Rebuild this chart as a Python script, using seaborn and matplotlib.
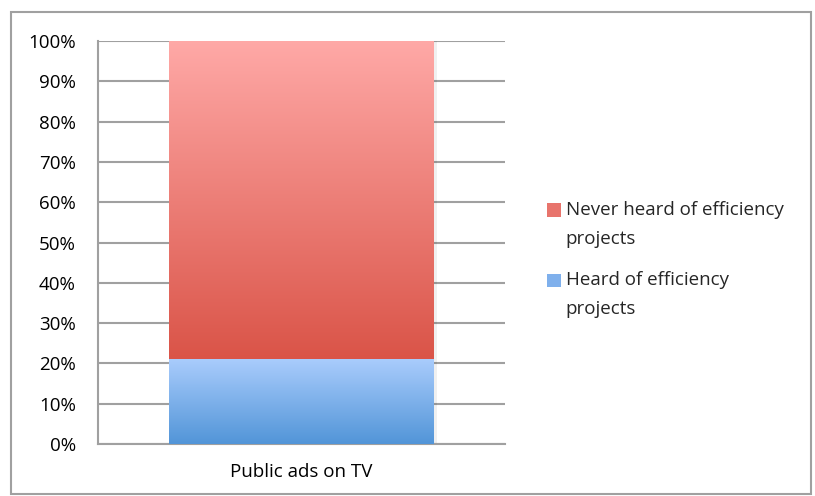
import numpy as np
import pandas as pd
import matplotlib
matplotlib.use("Agg")
import matplotlib.pyplot as plt
import matplotlib.patches as mpatches
from matplotlib.colors import LinearSegmentedColormap
from matplotlib.legend_handler import HandlerPatch
import seaborn as sns

# Survey shares (percent) for the single category
categories = ["Public ads on TV"]
heard = [21]
never_heard = [79]
series_labels = ["Heard of efficiency projects", "Never heard of efficiency projects"]
y_ticks = [0, 10, 20, 30, 40, 50, 60, 70, 80, 90, 100]

sns.set_theme(style="white")
plt.rcParams["font.family"] = ["Open Sans", "DejaVu Sans"]

FS = 13.5
LINESPACING = 1.75
W, H, DPI = 815, 496, 100
fig = plt.figure(figsize=(W / DPI, H / DPI), dpi=DPI)
ax = fig.add_axes([98 / W, 1 - 444 / H, (505 - 98) / W, (444 - 41) / H])

df = pd.DataFrame({
    "category": categories,
    "heard": heard,
    "total": [h + n for h, n in zip(heard, never_heard)],
})

# Stacked bars: the full height drawn first, the lower segment on top
sns.barplot(data=df, x="category", y="total", ax=ax, width=0.65,
            color="#E8746C", saturation=1, zorder=2)
sns.barplot(data=df, x="category", y="heard", ax=ax, width=0.65,
            color="#7FB0EC", saturation=1, zorder=3)

red_cmap = LinearSegmentedColormap.from_list("red", ["#DA5448", "#FFA9A7"])
blue_cmap = LinearSegmentedColormap.from_list("blue", ["#5295D8", "#A9CCFC"])

patches = list(ax.patches)
grad = np.linspace(0, 1, 256).reshape(-1, 1)
for patch, cmap, z in zip(patches, [red_cmap, blue_cmap], [2, 3]):
    x0, y0 = patch.get_x(), patch.get_y()
    w, h = patch.get_width(), patch.get_height()
    if patch is patches[0]:
        # the upper segment only spans from the lower segment's top
        y0 = patches[1].get_height()
        h = h - y0
    ax.imshow(grad, cmap=cmap, origin="lower", aspect="auto",
              extent=[x0, x0 + w, y0, y0 + h], zorder=z)
    patch.set_facecolor("none")
    patch.set_edgecolor("none")
    # soft shadow along the right edge
    ax.add_patch(mpatches.Rectangle((x0 + w, y0), 0.008, h, facecolor="#000000",
                                    alpha=0.06, edgecolor="none", zorder=z - 0.5))

ax.set_xlim(-0.5, 0.5)
ax.set_ylim(0, 100)
ax.set_yticks(y_ticks)
ax.set_yticklabels([f"{t}%" for t in y_ticks])
ax.set_xlabel("")
ax.set_ylabel("")
ax.yaxis.grid(True, color="#A0A0A0", linewidth=1.5, zorder=0)
ax.set_axisbelow(True)
for side in ["top", "right"]:
    ax.spines[side].set_visible(False)
for side in ["left", "bottom"]:
    ax.spines[side].set_color("#A0A0A0")
    ax.spines[side].set_linewidth(1.5)
ax.tick_params(axis="both", length=0, labelsize=FS, colors="#000000")
ax.tick_params(axis="y", pad=16)
ax.tick_params(axis="x", pad=14)


class FirstLineSquare(HandlerPatch):
    """Legend square aligned with the first line of a two-line label."""

    def __init__(self, shift, **kw):
        super().__init__(**kw)
        self.shift = shift

    def create_artists(self, legend, orig_handle, xdescent, ydescent,
                       width, height, fontsize, trans):
        p = mpatches.Rectangle((-xdescent, -ydescent + self.shift), width, height,
                               facecolor=orig_handle.get_facecolor(),
                               edgecolor="none", transform=trans)
        return [p]


handles = [
    mpatches.Patch(facecolor="#E8746C", edgecolor="none"),
    mpatches.Patch(facecolor="#7FB0EC", edgecolor="none"),
]
shift_pts = 29 / 2 * 72 / DPI
leg = fig.legend(handles,
                 ["Never heard of efficiency\nprojects", "Heard of efficiency\nprojects"],
                 loc="upper left", bbox_to_anchor=(547 / W, 1 - 201 / H),
                 frameon=False, fontsize=FS, handlelength=0.75, handleheight=0.75,
                 handletextpad=0.25, labelspacing=1.27, borderaxespad=0, borderpad=0,
                 handler_map={mpatches.Patch: FirstLineSquare(shift_pts)})
for t in leg.get_texts():
    t.set_linespacing(LINESPACING)

# Outer chart frame
fig.add_artist(mpatches.Rectangle((11 / W, 1 - 494 / H), (811 - 11) / W, (494 - 12) / H,
                                  transform=fig.transFigure, facecolor="none",
                                  edgecolor="#A0A0A0", linewidth=1.5))

fig.savefig("out.png", dpi=DPI)
